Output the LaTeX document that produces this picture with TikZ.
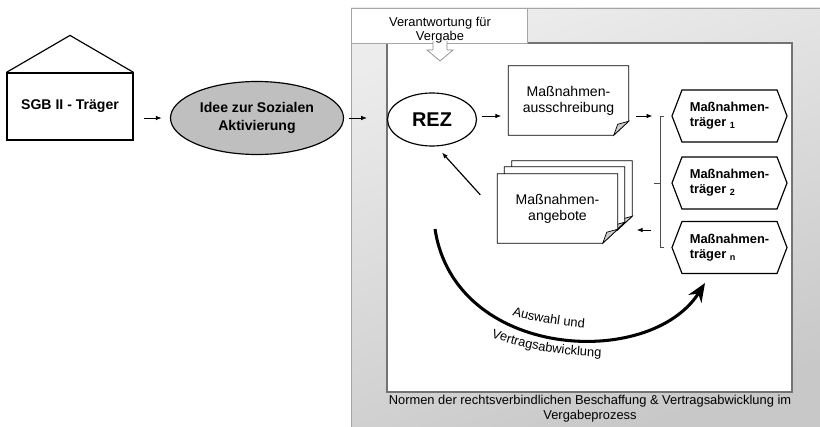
\documentclass[tikz,border=0pt]{standalone}
\usepackage{fontspec}
\setmainfont{Liberation Sans}
\usetikzlibrary{arrows.meta,shapes.geometric,shapes.symbols,calc,backgrounds,decorations.text}

\tikzset{
  arr/.style={-{Latex[length=5pt,width=4pt]}, line width=0.8pt},
  sheet/.style={draw, fill=white, line width=0.6pt},
  docnode/.style={inner sep=0pt, minimum width=3.6cm, minimum height=2.07cm, align=center, font=\fontsize{12}{13.7}\selectfont},
  hexa/.style={signal, signal to=west and east, signal pointer angle=138, draw, line width=1pt, fill=white,
    minimum width=3.45cm, minimum height=1.56cm, inner sep=0pt, align=left, font=\bfseries\fontsize{11}{13}\selectfont},
  bold12/.style={font=\bfseries\fontsize{12}{15}\selectfont, align=center},
  curvtext/.style={decorate, decoration={text along path, text align=left, text={|\fontsize{11}{13}\selectfont|#1}}}
}
\newcommand{\dogear}[1]{%
  \draw[sheet] (#1.north west) -- (#1.north east) -- ($(#1.south east)+(0,-14)$)
    -- ($(#1.south east)+(-15,0)$) -- (#1.south west) -- cycle;
  \draw[sheet, fill=gray!40] ($(#1.south east)+(0,-14)$) -- ($(#1.south east)+(-15,0)$)
    -- ($(#1.south east)+(-11,-11)$) -- cycle;
}

\begin{document}
\begin{tikzpicture}[x=0.03cm, y=-0.03cm]
  \useasboundingbox (0,0) rectangle (820,427);
  \begin{scope}[on background layer]
    \draw[draw=black!35, line width=0.8pt, top color=gray!15, bottom color=gray!43, shading angle=20] (351,8) rectangle (820,427);
    \draw[draw=black!55, line width=1.2pt, fill=white] (387,43) rectangle (792,392);
    \draw[draw=black!35, line width=0.8pt, fill=white] (351,8) rectangle (527,43);
    \draw[draw=black!45, line width=0.6pt, fill=white] (433,41) -- (433,50) -- (427,50) -- (440,61) -- (453,50) -- (447,50) -- (447,41);
  \end{scope}

  \node[font=\fontsize{11}{12}\selectfont, align=center] (verant) at (440,30) {Verantwortung für\\Vergabe};
  \node[font=\fontsize{11}{13}\selectfont, align=center] (norm) at (590,409)
    {Normen der rechtsverbindlichen Beschaffung \& Vertragsabwicklung im\\Vergabeprozess};

  \node[draw, line width=1pt, fill=white, minimum width=3.78cm, minimum height=2.01cm, bold12] (sgb) at (70,106.5) {SGB II - Träger};
  \draw[line width=1pt] (sgb.north west) -- ($(sgb.north)+(0,-37)$) -- (sgb.north east);
  \node[ellipse, draw, line width=1pt, fill=gray!50, minimum width=5.19cm, minimum height=2.19cm, inner sep=0pt, bold12] (idee) at (257,118) {Idee zur Sozialen\\Aktivierung};
  \node[ellipse, draw, line width=1pt, fill=white, minimum width=2.67cm, minimum height=1.59cm, inner sep=0pt, font=\bfseries\fontsize{17}{20}\selectfont] (rez) at (432,119.5) {REZ};

  \node[docnode] (aus) at (568.5,100.5) {Maßnahmen-\\ausschreibung};
  \node[docnode] (ang3) at (572,195.5) {};
  \node[docnode] (ang2) at (564.5,201.5) {};
  \node[docnode] (ang) at (557.5,208.5) {Maßnahmen-\\angebote};
  \begin{scope}[on background layer]
    \dogear{aus}
    \dogear{ang3}
    \dogear{ang2}
    \dogear{ang}
  \end{scope}

  \node[hexa] (h1) at (729.5,116) {Maßnahmen-\\träger \textsubscript{1}};
  \node[hexa] (h2) at (729.5,183) {Maßnahmen-\\träger \textsubscript{2}};
  \node[hexa] (hn) at (729.5,247.5) {Maßnahmen-\\träger \textsubscript{n}};
  \draw[line width=0.6pt, black!70] ($(h1.west)+(-7,0)$) -- ++(-4,0) |- ($(hn.west)+(-7,0)$);
  \draw[line width=0.6pt, black!70] ($(h2.west)+(-11,0)$) -- ++(-6,0);

  \coordinate (inlet) at (367,118);
  \coordinate (cstart) at (435,229);
  \coordinate (cend) at (705,283);
  \draw[arr, shorten <=8.5pt, shorten >=7pt] (sgb.east |- idee.west) -- (idee.west);
  \draw[arr, shorten <=4pt] (idee.east) -- (inlet);
  \draw[arr, shorten <=4pt, shorten >=6pt] (rez.east |- h1.west) -- (aus.west |- h1.west);
  \draw[arr, shorten <=6pt] (aus.east |- h1.west) -- ($(h1.west)+(-19,0)$);
  \draw[arr] ($(hn.west)+(-20,-17.5)$) -- ($(ang.east)+(19,21.5)$);
  \draw[arr, line width=1pt] ($(ang.north west)+(-17,21)$) -- ($(rez.south)+(10,6)$);

  \draw[line width=2.6pt, -{Stealth[length=16pt,width=13pt]}] (cstart) .. controls (455,360) and (650,370) .. (cend);
  \path[curvtext={Auswahl und}] (512,315) .. controls (535,322) and (560,327) .. (600,329);
  \path[curvtext={Vertragsabwicklung}] (491,337) .. controls (516,346) and (550,356) .. (612,357);
\end{tikzpicture}
\end{document}
